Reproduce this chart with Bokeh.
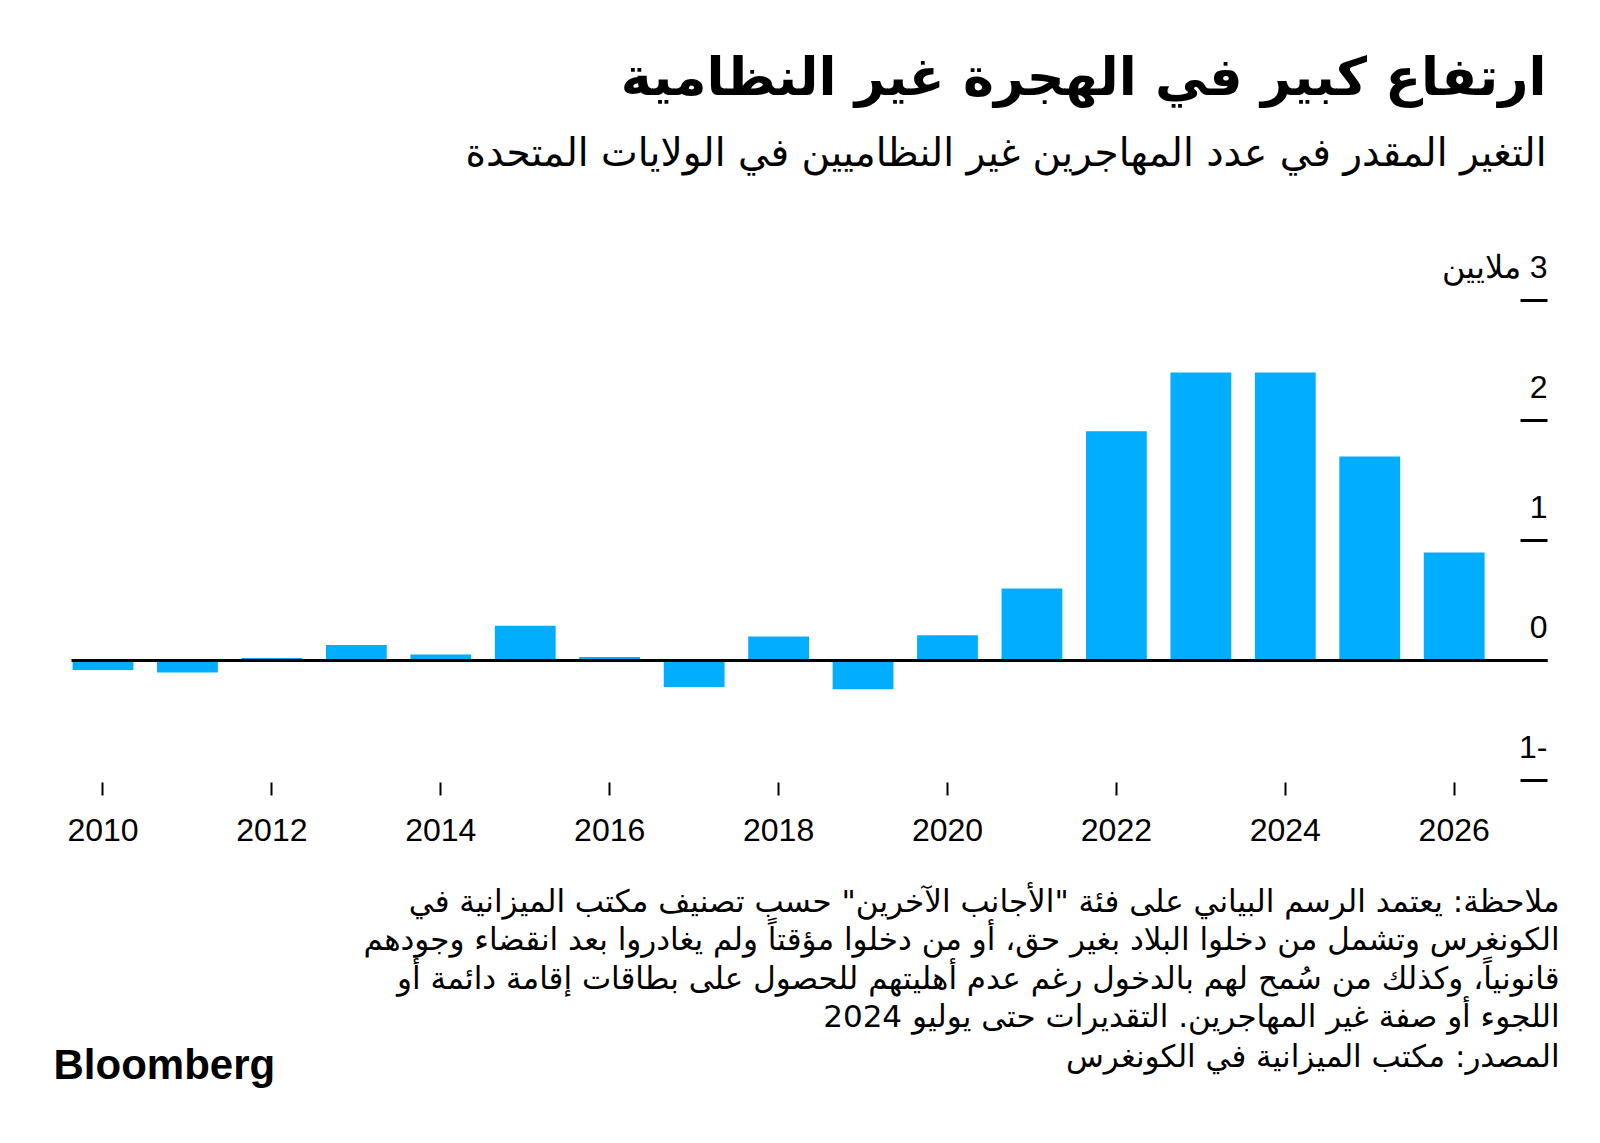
import math
from bokeh.plotting import figure
from bokeh.layouts import column
from bokeh.models import Range1d, LinearAxis, FixedTicker, ColumnDataSource
from bokeh.core.properties import value
from bokeh.embed import file_html
from bokeh.resources import INLINE

# ---- data (millions) ----
years = [2010, 2011, 2012, 2013, 2014, 2015, 2016, 2017, 2018,
         2019, 2020, 2021, 2022, 2023, 2024, 2025, 2026]
change = [-0.08, -0.10, 0.02, 0.13, 0.05, 0.29, 0.03, -0.22, 0.20,
          -0.24, 0.21, 0.60, 1.91, 2.40, 2.40, 1.70, 0.90]
x_ticks = [2010, 2012, 2014, 2016, 2018, 2020, 2022, 2024, 2026]
y_ticks = [-1, 0, 1, 2, 3]
y_tick_labels = ["-1", "0", "1", "2", "3 ملايين"]

title = "ارتفاع كبير في الهجرة غير النظامية"
subtitle = "التغير المقدر في عدد المهاجرين غير النظاميين في الولايات المتحدة"
notes = [
    "ملاحظة: يعتمد الرسم البياني على فئة \"الأجانب الآخرين\" حسب تصنيف مكتب الميزانية في",
    "الكونغرس وتشمل من دخلوا البلاد بغير حق، أو من دخلوا مؤقتاً ولم يغادروا بعد انقضاء وجودهم",
    "قانونياً، وكذلك من سُمح لهم بالدخول رغم عدم أهليتهم للحصول على بطاقات إقامة دائمة أو",
    "اللجوء أو صفة غير المهاجرين. التقديرات حتى يوليو 2024",
    "المصدر: مكتب الميزانية في الكونغرس",
]
brand = "Bloomberg"

BLUE = "#00ADFE"
AR_FONT = "DejaVu Sans"
NUM_FONT = "Liberation Sans"
RLM = "\u200f"

W = 1600
HEAD_H, MAIN_H, FOOT_H = 240, 620, 283


def blank_fig(h, y_top):
    f = figure(width=W, height=h, output_backend="svg", toolbar_location=None,
               x_range=Range1d(0, W), y_range=Range1d(y_top + h, y_top),
               min_border=0, x_axis_location=None, y_axis_location=None)
    f.title = None
    f.outline_line_color = None
    f.xgrid.visible = False
    f.ygrid.visible = False
    f.border_fill_color = "white"
    return f


# ---- header ----
head = blank_fig(HEAD_H, 0)
head.text(x=[1546], y=[76], text=[title], text_align="right", text_baseline="alphabetic",
          text_font=value(AR_FONT), text_font_style="bold", text_font_size="52.5px",
          text_color="black")
head.text(x=[1546], y=[152], text=[subtitle], text_align="right", text_baseline="alphabetic",
          text_font=value(AR_FONT), text_font_size="39px", text_color="black")

# ---- main chart ----
x_lo, x_hi = 2009.627, 2027.105
left_px, right_px = 71, 53
px_per_year = (W - left_px - right_px) / (x_hi - x_lo)
x_start = x_lo - left_px / px_per_year
x_end = x_hi + right_px / px_per_year
y_start, y_end = -1.0167, 3.5

p = figure(width=W, height=MAIN_H, output_backend="svg", toolbar_location=None,
           x_range=Range1d(x_start, x_end), y_range=Range1d(y_start, y_end),
           min_border_left=0, min_border_right=0, min_border_top=0,
           min_border_bottom=78, y_axis_location=None, x_axis_location=None)
p.title = None
p.outline_line_color = None
p.xgrid.visible = False
p.ygrid.visible = False
p.border_fill_color = "white"

src = ColumnDataSource(dict(x=years, top=change))
p.vbar(x="x", top="top", width=0.72, source=src, fill_color=BLUE, line_color=None)

# zero line
p.segment(x0=[x_lo], x1=[x_hi], y0=[0], y1=[0], line_color="black", line_width=3)

# y tick marks (short dashes at right end)
p.ray(x=[x_hi] * len(y_ticks), y=y_ticks, length=27, length_units="screen",
      angle=math.pi, line_color="black", line_width=3)

# y tick labels above the tick marks, right aligned
p.text(x=[x_hi] * len(y_ticks), y=y_ticks, text=[RLM + t for t in y_tick_labels],
       text_align="right", text_baseline="alphabetic", y_offset=-33,
       text_font=value(NUM_FONT), text_font_size="32px", text_color="black")

xa = LinearAxis(ticker=FixedTicker(ticks=x_ticks))
xa.axis_line_color = None
xa.major_tick_out = 13
xa.major_tick_in = 0
xa.major_tick_line_width = 2
xa.major_tick_line_color = "black"
xa.minor_tick_line_color = None
xa.major_label_standoff = 23
xa.major_label_text_font = NUM_FONT
xa.major_label_text_font_size = "32px"
xa.major_label_text_color = "black"
p.add_layout(xa, "below")

# ---- footer ----
foot = blank_fig(FOOT_H, HEAD_H + MAIN_H)
note_base = [900, 938.5, 977, 1015.5, 1055]
foot.text(x=[1559] * len(notes), y=note_base, text=notes, text_align="right",
          text_baseline="alphabetic", text_font=value(AR_FONT), text_font_size="31px",
          text_color="black")
foot.text(x=[53], y=[1064], text=[brand], text_align="left", text_baseline="alphabetic",
          text_font=value(NUM_FONT), text_font_style="bold", text_font_size="42px",
          text_color="black")

layout = column(head, p, foot, spacing=0)
open("out.html", "w").write(file_html(layout, INLINE))
